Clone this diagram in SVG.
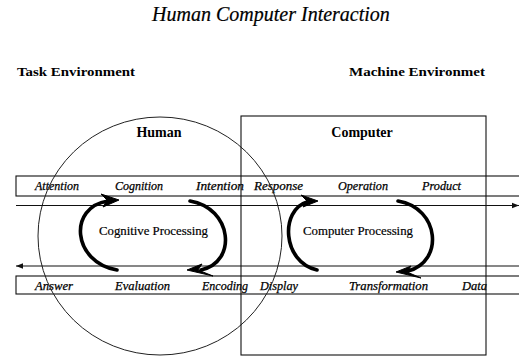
<svg xmlns="http://www.w3.org/2000/svg" width="519" height="358" viewBox="0 0 519 358">
<style>
.bg{fill:#fff}
.ln{fill:none;stroke:#111;stroke-width:1.1}
.thin{fill:none;stroke:#222;stroke-width:1}
.arc{fill:none;stroke:#000;stroke-width:3.6;stroke-linecap:round}
.head{fill:#000;stroke:#000;stroke-width:1;stroke-linejoin:round}
.t{font-family:"Liberation Serif","Times New Roman",serif;fill:#000}
.title{font-size:20px;font-style:italic;stroke:#000;stroke-width:0.2}
.hb{font-size:13px;font-weight:bold}
.nb{font-size:14px;font-weight:bold}
.it{font-size:12px;font-style:italic;stroke:#000;stroke-width:0.25}
.pr{font-size:13px;stroke:#000;stroke-width:0.2}
</style>
<defs>
<marker id="ah" viewBox="0 0 10 10" refX="10" refY="5" markerWidth="7" markerHeight="7" markerUnits="userSpaceOnUse" orient="auto"><path d="M0,1 L10,5 L0,9 z" fill="#111"/></marker>
</defs>
<rect class="bg" x="0" y="0" width="519" height="358"/>
<g id="title"><text class="t title" x="271" y="21" text-anchor="middle">Human Computer Interaction</text></g>
<g id="task-environment"><text class="t hb" x="17" y="76" textLength="118" lengthAdjust="spacingAndGlyphs">Task Environment</text></g>
<g id="machine-environment"><text class="t hb" x="349" y="76" textLength="136" lengthAdjust="spacingAndGlyphs">Machine Environmet</text></g>
<g id="top-band">
<rect class="ln" x="16" y="176" width="510" height="20"/>
<text class="t it" x="35" y="190">Attention</text>
<text class="t it" x="115" y="190" textLength="48" lengthAdjust="spacingAndGlyphs">Cognition</text>
<text class="t it" x="196" y="190" textLength="48" lengthAdjust="spacingAndGlyphs">Intention</text>
<text class="t it" x="254" y="190" textLength="49" lengthAdjust="spacingAndGlyphs">Response</text>
<text class="t it" x="338" y="190" textLength="50" lengthAdjust="spacingAndGlyphs">Operation</text>
<text class="t it" x="422" y="190" textLength="39" lengthAdjust="spacingAndGlyphs">Product</text>
</g>
<g id="bottom-band">
<rect class="ln" x="16" y="276" width="510" height="18"/>
<text class="t it" x="35" y="290" textLength="38" lengthAdjust="spacingAndGlyphs">Answer</text>
<text class="t it" x="115" y="290" textLength="55" lengthAdjust="spacingAndGlyphs">Evaluation</text>
<text class="t it" x="202" y="290" textLength="46" lengthAdjust="spacingAndGlyphs">Encoding</text>
<text class="t it" x="260" y="290" textLength="38" lengthAdjust="spacingAndGlyphs">Display</text>
<text class="t it" x="349" y="290" textLength="79" lengthAdjust="spacingAndGlyphs">Transformation</text>
<text class="t it" x="462" y="290" textLength="25" lengthAdjust="spacingAndGlyphs">Data</text>
</g>
<g id="human">
<ellipse class="thin" cx="160" cy="236" rx="122" ry="119"/>
<text class="t nb" x="159" y="137" text-anchor="middle">Human</text>
</g>
<g id="computer">
<rect class="ln" x="241" y="116" width="245" height="239"/>
<text class="t nb" x="362" y="137" text-anchor="middle">Computer</text>
</g>
<g id="cognitive-processing"><text class="t pr" x="99" y="235" textLength="109" lengthAdjust="spacingAndGlyphs">Cognitive Processing</text></g>
<g id="computer-processing"><text class="t pr" x="303" y="235" textLength="110" lengthAdjust="spacingAndGlyphs">Computer Processing</text></g>
<g id="connectors">
<path class="ln" d="M16,205.5 H519" marker-end="url(#ah)"/>
<path class="ln" d="M519,266 H16" marker-end="url(#ah)"/>
<path class="arc" d="M117,270 C72,262 68,207 108,201"/>
<polygon class="head" points="119,200 101,194 107,200 103,207"/>
<path class="arc" d="M190,201 C232,208 238,262 201,270"/>
<polygon class="head" points="187,270 202,264 198,270 213,276"/>
<path class="arc" d="M317,270 C282,262 280,210 307,202"/>
<polygon class="head" points="318,201 301,195 307,201 303,207"/>
<path class="arc" d="M398,201 C440,208 444,262 408,271"/>
<polygon class="head" points="396,272 411,266 407,272 421,278"/>
</g>
</svg>
